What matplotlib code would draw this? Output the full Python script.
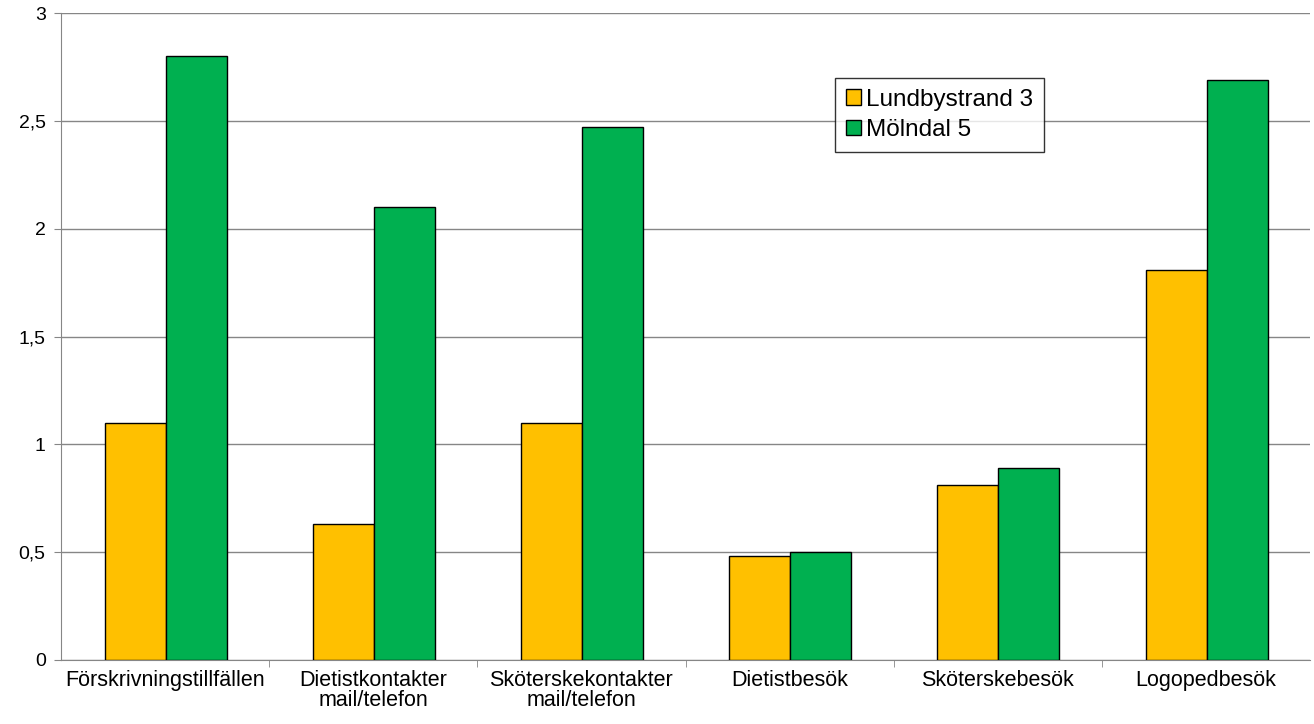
import numpy as np
import matplotlib.pyplot as plt
from matplotlib.ticker import FixedLocator, NullFormatter

kategorier = ['Förskrivningstillfällen', 'Dietistkontakter\nmail/telefon',
              'Sköterskekontakter\nmail/telefon', 'Dietistbesök',
              'Sköterskebesök', 'Logopedbesök']
lundbystrand = [1.1, 0.63, 1.1, 0.48, 0.81, 1.81]
molndal = [2.8, 2.1, 2.47, 0.5, 0.89, 2.69]
y_ticks = [0, 0.5, 1, 1.5, 2, 2.5, 3]
y_labels = ['0', '0,5', '1', '1,5', '2', '2,5', '3']

plt.rcParams['font.family'] = ['Liberation Sans', 'DejaVu Sans']

fig = plt.figure(figsize=(13.14, 7.24), dpi=100)
ax = fig.add_axes([61/1314, 64/724, 1249/1314, 647/724])

x = np.arange(len(kategorier))
b = 0.293
ax.bar(x - b/2 + 0.003, lundbystrand, b, color='#FFC000', edgecolor='black', linewidth=1, label='Lundbystrand 3', zorder=3)
ax.bar(x + b/2 + 0.003, molndal, b, color='#00B050', edgecolor='black', linewidth=1, label='Mölndal 5', zorder=3)

ax.set_xlim(-0.5, len(kategorier) - 0.5)
ax.set_ylim(0, 3)
ax.set_yticks(y_ticks)
ax.set_yticklabels(y_labels, fontsize=14)
ax.yaxis.grid(True, color='#868686', linewidth=1, zorder=0)

ax.set_xticks(x)
ax.set_xticklabels(kategorier, fontsize=15.5, linespacing=0.95)
ax.tick_params(axis='x', length=0, pad=7)
ax.xaxis.set_minor_locator(FixedLocator(np.arange(0.5, len(kategorier) - 0.5, 1)))
ax.xaxis.set_minor_formatter(NullFormatter())
ax.tick_params(axis='x', which='minor', length=5, color='#868686')
ax.tick_params(axis='y', length=5, color='#868686', pad=6)

for s in ['top', 'right']:
    ax.spines[s].set_visible(False)
ax.spines['left'].set_color('#868686')
ax.spines['bottom'].set_color('#868686')

# legenda ruta, ungefär centrerad som i originalet
leg = ax.legend(loc='upper left', bbox_to_anchor=(0.62, 0.9), fontsize=17.5,
                frameon=True, fancybox=False, edgecolor='black',
                handlelength=0.6, handleheight=0.6, handletextpad=0.2,
                borderpad=0.45, labelspacing=0.35, borderaxespad=0)
leg.get_frame().set_linewidth(1)

plt.savefig('out.png', dpi=100)
